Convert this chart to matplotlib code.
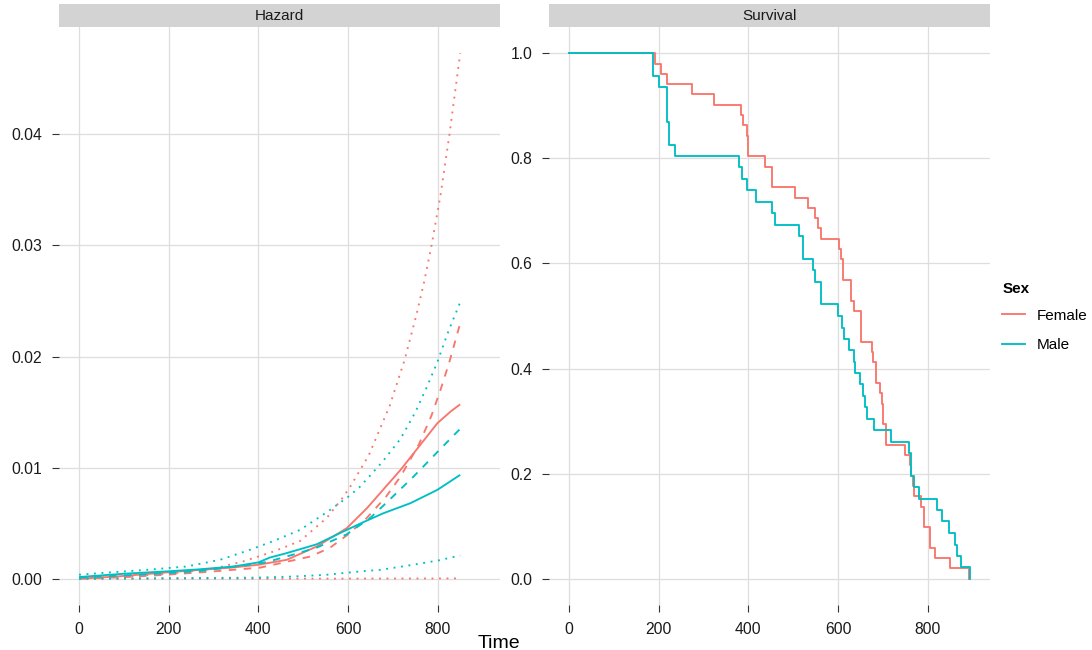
import numpy as np
import matplotlib.pyplot as plt
from matplotlib.lines import Line2D

plt.rcParams['font.family'] = ['Liberation Sans', 'DejaVu Sans']

# colours for the two groups
col_f = '#F8766D'
col_m = '#00BFC4'
sexes = ['Female', 'Male']

# hazard curves (time, hazard)
# smooth = solid, param = dashed, upper/lower = dotted band
hf_smooth_t = [0, 84, 195, 270, 340, 400, 463, 530, 597, 642, 680, 717, 760, 799, 830, 850]
hf_smooth = [0.0, 0.0002, 0.00057, 0.0008, 0.001, 0.00126, 0.0017, 0.0029, 0.00455, 0.00635,
             0.0081, 0.0098, 0.0120, 0.0140, 0.0151, 0.0157]
hf_param_t = [0, 100, 195, 300, 404, 516, 560, 597, 640, 683, 717, 758, 786, 806, 825, 850]
hf_param = [0.0, 0.00014, 0.00036, 0.00066, 0.0010, 0.0020, 0.0028, 0.0039, 0.0054, 0.0073,
            0.0092, 0.0121, 0.0147, 0.0170, 0.0194, 0.0230]
hf_upper_t = [0, 100, 200, 300, 366, 434, 493, 553, 588, 605, 646, 693, 726, 752, 770, 786, 806, 826, 850]
hf_upper = [0.00005, 0.0002, 0.00045, 0.0009, 0.00156, 0.00245, 0.0034, 0.0055, 0.0073, 0.0083,
            0.0111, 0.0156, 0.0197, 0.0237, 0.0268, 0.0300, 0.0345, 0.0400, 0.0473]
hf_lower_t = [0, 300, 600, 850]
hf_lower = [0.0, 0.0, 0.00001, 0.00003]

hm_smooth_t = [0, 100, 195, 270, 344, 400, 425, 458, 488, 530, 597, 640, 679, 739, 799, 850]
hm_smooth = [0.00015, 0.00045, 0.00066, 0.00085, 0.0011, 0.00147, 0.0019, 0.00225, 0.0026, 0.0031,
             0.0044, 0.0052, 0.0059, 0.0068, 0.0080, 0.00935]
hm_param_t = [0, 100, 200, 270, 350, 419, 480, 530, 597, 650, 687, 746, 799, 850]
hm_param = [0.0001, 0.0003, 0.0005, 0.0007, 0.0011, 0.0015, 0.0022, 0.0028, 0.0040, 0.0055,
            0.0069, 0.0092, 0.0114, 0.0135]
hm_upper_t = [0, 46, 151, 240, 314, 374, 434, 493, 553, 601, 627, 676, 717, 750, 776, 799, 821, 850]
hm_upper = [0.00036, 0.0005, 0.0008, 0.0011, 0.0017, 0.0025, 0.0034, 0.0044, 0.0060, 0.0074,
            0.0083, 0.0105, 0.0126, 0.0150, 0.0173, 0.0195, 0.0220, 0.0249]
hm_lower_t = [0, 200, 400, 478, 550, 627, 672, 746, 802, 850]
hm_lower = [0.0, 0.00005, 0.0001, 0.0002, 0.00035, 0.00066, 0.0008, 0.00126, 0.00165, 0.0021]

# Kaplan-Meier steps (event time, survival after it)
km_time_f = [192, 204, 218, 275, 323, 383, 387, 396, 399, 436, 453, 503, 533, 548, 556, 562, 601, 607,
             610, 628, 636, 651, 675, 678, 684, 693, 698, 701, 707, 750, 761, 762, 768, 770, 785, 791,
             804, 806, 815, 849, 892]
km_surv_f = [0.980, 0.961, 0.941, 0.922, 0.902, 0.882, 0.863, 0.843, 0.804, 0.784, 0.745, 0.725, 0.706,
             0.686, 0.667, 0.647, 0.627, 0.608, 0.569, 0.529, 0.510, 0.451, 0.431, 0.412, 0.373, 0.353,
             0.333, 0.294, 0.255, 0.235, 0.216, 0.196, 0.176, 0.157, 0.137, 0.098, 0.078, 0.059, 0.039,
             0.020, 0.000]
km_time_m = [187, 200, 218, 222, 237, 379, 386, 396, 416, 453, 460, 513, 521, 544, 548, 562, 600, 609,
             614, 625, 635, 637, 648, 656, 659, 664, 680, 718, 757, 763, 769, 780, 821, 832, 847, 860,
             864, 873, 894]
km_surv_m = [0.957, 0.935, 0.870, 0.826, 0.804, 0.783, 0.761, 0.739, 0.717, 0.696, 0.674, 0.652, 0.609,
             0.587, 0.565, 0.522, 0.500, 0.478, 0.457, 0.435, 0.413, 0.391, 0.370, 0.348, 0.326, 0.304,
             0.283, 0.261, 0.239, 0.196, 0.174, 0.152, 0.130, 0.109, 0.087, 0.065, 0.043, 0.022, 0.000]

W, H = 1092, 650
fig = plt.figure(figsize=(W / 100, H / 100), dpi=100)

def px_axes(x0, y0, x1, y1):
    # pixel box (top-left origin) -> figure axes
    return fig.add_axes([x0 / W, 1 - y1 / H, (x1 - x0) / W, (y1 - y0) / H])

ax_h = px_axes(59, 27, 500, 605)
ax_s = px_axes(549, 27, 990, 605)

lw = 1.35
dash = (0, (4, 4))
dot = (0, (1, 3))

curves = [
    (col_f, hf_upper_t, hf_upper, dot), (col_f, hf_lower_t, hf_lower, dot),
    (col_f, hf_param_t, hf_param, dash), (col_f, hf_smooth_t, hf_smooth, '-'),
    (col_m, hm_upper_t, hm_upper, dot), (col_m, hm_lower_t, hm_lower, dot),
    (col_m, hm_param_t, hm_param, dash), (col_m, hm_smooth_t, hm_smooth, '-'),
]
for c, t, v, ls in curves:
    ax_h.plot(t, v, color=c, lw=lw, ls=ls, solid_capstyle='butt')

ax_s.step([0] + km_time_f, [1.0] + km_surv_f, where='post', color=col_f, lw=lw)
ax_s.step([0] + km_time_m, [1.0] + km_surv_m, where='post', color=col_m, lw=lw)

# shared x scale with 5% expansion
xmax = max(km_time_f + km_time_m)
xl = (-0.05 * xmax, 1.05 * xmax)
hmax = max(hf_upper + hm_upper)
for ax in (ax_h, ax_s):
    ax.set_xlim(*xl)
    ax.set_xticks([0, 200, 400, 600, 800])
ax_h.set_ylim(-0.05 * hmax, 1.05 * hmax)
ax_h.set_yticks([0.0, 0.01, 0.02, 0.03, 0.04])
ax_h.set_yticklabels(['0.00', '0.01', '0.02', '0.03', '0.04'])
ax_s.set_ylim(-0.05, 1.05)
ax_s.set_yticks([0.0, 0.2, 0.4, 0.6, 0.8, 1.0])
ax_s.set_yticklabels(['0.0', '0.2', '0.4', '0.6', '0.8', '1.0'])

for ax in (ax_h, ax_s):
    for sp in ax.spines.values():
        sp.set_visible(False)
    ax.grid(True, color='#DEDEDE', lw=0.9)
    ax.set_axisbelow(True)
    ax.tick_params(axis='both', direction='out', length=5, width=0.8, color='#333333',
                   labelsize=11.3, labelcolor='#1A1A1A', pad=7)

for name, (x0, x1) in [('Hazard', (59, 500)), ('Survival', (549, 990))]:
    st = px_axes(x0, 4, x1, 27)
    st.set_facecolor('#D3D3D3')
    st.set_xticks([])
    st.set_yticks([])
    for sp in st.spines.values():
        sp.set_visible(False)
    st.text(0.5, 0.5, name, ha='center', va='center', fontsize=11, color='#1A1A1A',
            transform=st.transAxes)

fig.text(499 / W, 2 / H, 'Time', ha='center', va='baseline', fontsize=14, color='black')

handles = [Line2D([], [], color=col_f, lw=lw), Line2D([], [], color=col_m, lw=lw)]
leg = fig.legend(handles, sexes, title='Sex', loc='upper left',
                 bbox_to_anchor=(996 / W, 1 - 276 / H), frameon=False, fontsize=11,
                 title_fontproperties={'weight': 'bold', 'size': 11},
                 handlelength=1.5, handletextpad=0.8, labelspacing=1.0, borderaxespad=0)
leg._legend_box.align = 'left'
leg._legend_box.sep = 9

fig.savefig('out.png', dpi=100)
